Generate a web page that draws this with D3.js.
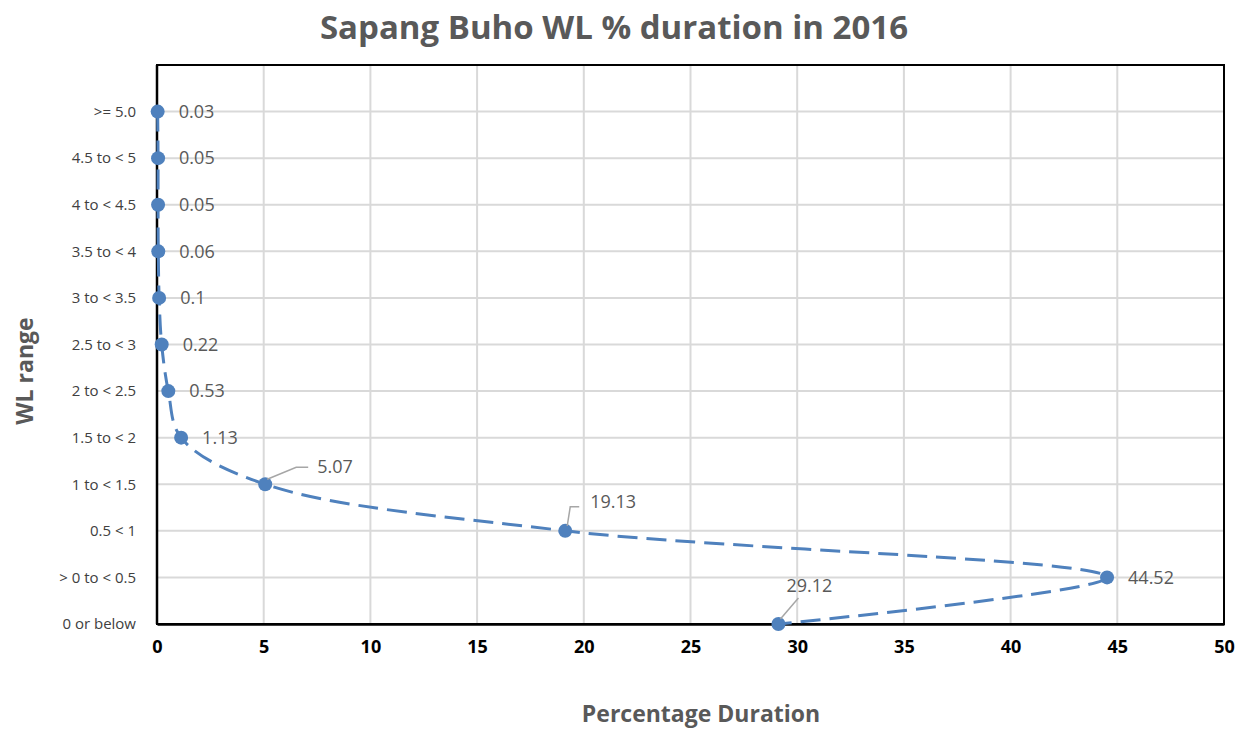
<!DOCTYPE html>
<html>
<head>
<meta charset="utf-8">
<script src="https://cdn.jsdelivr.net/npm/d3@7"></script>
<style>
  body { margin: 0; background: #fff; }
  text { font-family: "Open Sans", "Noto Sans", sans-serif; }
</style>
</head>
<body>
<div id="chart"></div>
<script>
// data, bottom category first
var categories = ["0 or below", "> 0 to < 0.5", "0.5 < 1", "1 to < 1.5", "1.5 to < 2", "2 to < 2.5",
                  "2.5 to < 3", "3 to < 3.5", "3.5 to < 4", "4 to < 4.5", "4.5 to < 5", ">= 5.0"];
var values = [29.12, 44.52, 19.13, 5.07, 1.13, 0.53, 0.22, 0.1, 0.06, 0.05, 0.05, 0.03];
var labels = ["29.12", "44.52", "19.13", "5.07", "1.13", "0.53", "0.22", "0.1", "0.06", "0.05", "0.05", "0.03"];
var xTicks = [0, 5, 10, 15, 20, 25, 30, 35, 40, 45, 50];

var W = 1248, H = 729;
var pLeft = 157, pRight = 1224, pTop = 65, pBottom = 624;
var blue = "#4f81bd";

var svg = d3.select("#chart").append("svg").attr("width", W).attr("height", H);

var x = d3.scaleLinear().domain([0, 50]).range([pLeft, pRight]);
var y = d3.scaleLinear().domain([0, categories.length]).range([pBottom, pTop]);

// grid
svg.selectAll(".vgrid").data(xTicks).enter().append("line")
    .attr("x1", function (d) { return x(d); }).attr("x2", function (d) { return x(d); })
    .attr("y1", pTop).attr("y2", pBottom)
    .attr("stroke", "#d9d9d9").attr("stroke-width", 2);
svg.selectAll(".hgrid").data(categories).enter().append("line")
    .attr("x1", pLeft).attr("x2", pRight)
    .attr("y1", function (d, i) { return y(i); }).attr("y2", function (d, i) { return y(i); })
    .attr("stroke", "#d9d9d9").attr("stroke-width", 2);

// frame
svg.append("rect").attr("x", pLeft).attr("y", pTop)
    .attr("width", pRight - pLeft).attr("height", pBottom - pTop)
    .attr("fill", "none").attr("stroke", "#000").attr("stroke-width", 2);

// x axis
var xAxis = svg.append("g").attr("transform", "translate(0," + pBottom + ")")
    .call(d3.axisBottom(x).tickValues(xTicks).tickSize(0).tickPadding(16));
xAxis.select(".domain").attr("stroke", "#000").attr("stroke-width", 2.5);
xAxis.selectAll("text").attr("font-size", 18).attr("font-weight", "bold").attr("fill", "#000")
    .style("font-family", "'Open Sans', sans-serif");

// y axis labels
svg.selectAll(".ylab").data(categories).enter().append("text")
    .attr("x", 136).attr("y", function (d, i) { return y(i); })
    .attr("dy", "0.35em").attr("text-anchor", "end")
    .attr("font-size", 15).attr("fill", "#404040")
    .text(function (d) { return d; });
svg.append("line").attr("x1", pLeft).attr("x2", pLeft).attr("y1", pTop).attr("y2", pBottom)
    .attr("stroke", "#000").attr("stroke-width", 2.5);

// smoothed dashed line
var pts = values.map(function (v, i) { return [x(v), y(i)]; });
svg.append("path")
    .attr("d", d3.line().curve(d3.curveCatmullRom.alpha(0.5))(pts.slice().reverse()))
    .attr("fill", "none").attr("stroke", blue).attr("stroke-width", 3)
    .attr("stroke-dasharray", "20,9");

svg.selectAll(".dot").data(values).enter().append("circle")
    .attr("cx", function (d) { return x(d); })
    .attr("cy", function (d, i) { return y(i); })
    .attr("r", 7).attr("fill", blue);

// data labels; some use leader lines
var leaders = {
  0: {dx: 8, dy: -38, lx: 20, ly: -26},
  2: {dx: 25, dy: -29, lx: 5, ly: -24, hx: 14},
  3: {dx: 52, dy: -18, lx: 31, ly: -17, hx: 43}
};
values.forEach(function (v, i) {
  var px = x(v), py = y(i);
  var L = leaders[i];
  var tx, ty;
  if (L) {
    var path = "M" + (px + 2) + "," + (py - 5) + "L" + (px + L.lx) + "," + (py + L.ly);
    if (L.hx) path += "L" + (px + L.hx) + "," + (py + L.ly);
    svg.append("path").attr("d", path).attr("fill", "none")
        .attr("stroke", "#a6a6a6").attr("stroke-width", 1.5);
    tx = px + L.dx; ty = py + L.dy;
  } else {
    tx = px + 21; ty = py;
  }
  svg.append("text").attr("x", tx).attr("y", ty).attr("dy", "0.35em")
      .attr("font-size", 18).attr("fill", "#595959").text(labels[i]);
});

// titles
svg.append("text").attr("x", 614).attr("y", 39).attr("text-anchor", "middle")
    .attr("font-size", 33).attr("font-weight", "bold").attr("fill", "#595959")
    .text("Sapang Buho WL % duration in 2016");
svg.append("text").attr("x", 701).attr("y", 722).attr("text-anchor", "middle")
    .attr("font-size", 23).attr("font-weight", "bold").attr("fill", "#595959")
    .text("Percentage Duration");
svg.append("text").attr("transform", "translate(33,371) rotate(-90)").attr("text-anchor", "middle")
    .attr("font-size", 23).attr("font-weight", "bold").attr("fill", "#595959")
    .text("WL range");
</script>
</body>
</html>
